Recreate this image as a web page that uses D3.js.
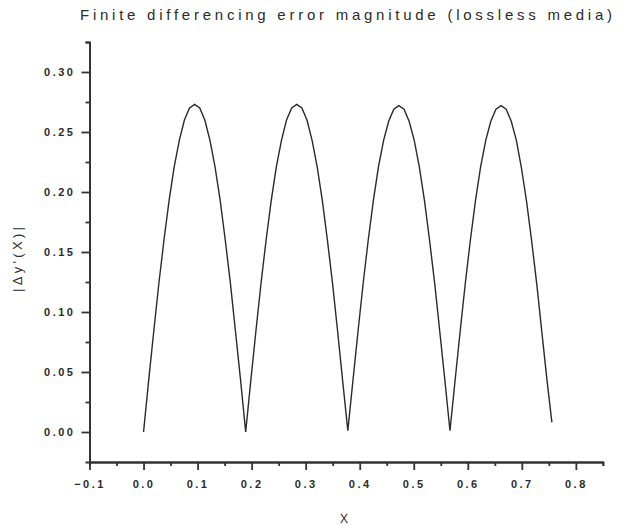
<!DOCTYPE html>
<html>
<head>
<meta charset="utf-8">
<script src="https://cdn.jsdelivr.net/npm/d3@7"></script>
<style>
  body { margin: 0; background: #fff; }
  text { font-family: 'Liberation Sans', Arial, sans-serif; fill: #2b2b2b; }
</style>
</head>
<body>
<div id="chart"></div>
<script>
const title = 'Finite differencing error magnitude (lossless media)';
const xLabel = 'X';
const yLabel = "|\u0394y'(X)|";

const xTicks = [-0.1, 0.0, 0.1, 0.2, 0.3, 0.4, 0.5, 0.6, 0.7, 0.8];
const xMinor = [-0.05, 0.05, 0.15, 0.25, 0.35, 0.45, 0.55, 0.65, 0.75, 0.85];
const yTicks = [0.0, 0.05, 0.1, 0.15, 0.2, 0.25, 0.3];
const yMinor = [0.025, 0.075, 0.125, 0.175, 0.225, 0.275, 0.325];

// x positions of the samples
const xs = [
  0.0000, 0.0095, 0.0189, 0.0284, 0.0378, 0.0473, 0.0567, 0.0662, 0.0756, 0.0851,
  0.0945, 0.1040, 0.1134, 0.1229, 0.1323, 0.1418, 0.1512, 0.1607, 0.1701, 0.1796,
  0.1890, 0.1985, 0.2079, 0.2174, 0.2268, 0.2363, 0.2457, 0.2552, 0.2646, 0.2741,
  0.2835, 0.2930, 0.3024, 0.3119, 0.3213, 0.3308, 0.3402, 0.3497, 0.3591, 0.3686,
  0.3780, 0.3875, 0.3969, 0.4064, 0.4158, 0.4253, 0.4347, 0.4442, 0.4536, 0.4631,
  0.4725, 0.4820, 0.4914, 0.5009, 0.5103, 0.5198, 0.5292, 0.5387, 0.5481, 0.5576,
  0.5670, 0.5765, 0.5859, 0.5954, 0.6048, 0.6143, 0.6237, 0.6332, 0.6426, 0.6521,
  0.6615, 0.6710, 0.6804, 0.6899, 0.6993, 0.7088, 0.7182, 0.7277, 0.7371, 0.7466,
  0.7556
];

// |error|
const errs = [
  0.000, 0.043, 0.084, 0.124, 0.160, 0.193, 0.221, 0.243, 0.260, 0.270,
  0.273, 0.270, 0.260, 0.243, 0.221, 0.193, 0.160, 0.124, 0.084, 0.043,
  0.000, 0.043, 0.084, 0.124, 0.160, 0.193, 0.221, 0.243, 0.260, 0.270,
  0.273, 0.270, 0.260, 0.243, 0.221, 0.193, 0.160, 0.124, 0.084, 0.042,
  0.001, 0.043, 0.084, 0.124, 0.160, 0.193, 0.221, 0.243, 0.259, 0.269,
  0.272, 0.269, 0.259, 0.243, 0.221, 0.193, 0.160, 0.124, 0.084, 0.043,
  0.001, 0.043, 0.084, 0.124, 0.160, 0.193, 0.221, 0.243, 0.259, 0.269,
  0.272, 0.269, 0.259, 0.243, 0.220, 0.192, 0.159, 0.123, 0.083, 0.043,
  0.008
];

const width = 621;
const height = 525;

const svg = d3.select('#chart')
  .append('svg')
  .attr('width', width)
  .attr('height', height);

const x = d3.scaleLinear().domain([-0.1, 0.85]).range([89.5, 602.9]);
const y = d3.scaleLinear().domain([-0.025, 0.325]).range([462, 42]);

// minor ticks
svg.append('g')
  .attr('class', 'axis')
  .attr('transform', 'translate(0,' + y(-0.025) + ')')
  .call(d3.axisBottom(x).tickValues(xMinor).tickSize(4).tickFormat(''));
svg.append('g')
  .attr('class', 'axis')
  .attr('transform', 'translate(' + x(-0.1) + ',0)')
  .call(d3.axisLeft(y).tickValues(yMinor).tickSize(4).tickFormat(''));

// major ticks + labels
svg.append('g')
  .attr('class', 'axis')
  .attr('transform', 'translate(0,' + y(-0.025) + ')')
  .call(d3.axisBottom(x).tickValues(xTicks).tickSize(8).tickSizeOuter(0).tickPadding(10).tickFormat(d3.format('.1f')));
svg.append('g')
  .attr('class', 'axis')
  .attr('transform', 'translate(' + x(-0.1) + ',0)')
  .call(d3.axisLeft(y).tickValues(yTicks).tickSize(8).tickSizeOuter(0).tickPadding(6).tickFormat(d3.format('.2f')));

svg.selectAll('.axis path, .axis line')
  .attr('stroke', '#333')
  .attr('stroke-width', 1.8);
svg.selectAll('.axis text')
  .style('font-family', "'Liberation Sans', Arial, sans-serif")
  .style('font-size', '11px')
  .style('font-weight', 'bold')
  .style('letter-spacing', '2.5px')
  .attr('fill', '#2b2b2b');

// curve
const line = d3.line()
  .x((d, i) => x(xs[i]))
  .y((d) => y(d));

svg.append('path')
  .datum(errs)
  .attr('d', line)
  .attr('fill', 'none')
  .attr('stroke', '#2a2a2a')
  .attr('stroke-width', 1.4);

// texts
svg.append('text')
  .attr('x', 80)
  .attr('y', 20)
  .attr('textLength', 532)
  .attr('lengthAdjust', 'spacing')
  .style('font-size', '15px')
  .text(title);

svg.append('text')
  .attr('x', 344)
  .attr('y', 523)
  .attr('text-anchor', 'middle')
  .style('font-size', '12px')
  .text(xLabel);

svg.append('text')
  .attr('transform', 'translate(22,259.5) rotate(-90)')
  .attr('text-anchor', 'middle')
  .attr('textLength', 65)
  .attr('lengthAdjust', 'spacing')
  .style('font-size', '13px')
  .text(yLabel);
</script>
</body>
</html>
